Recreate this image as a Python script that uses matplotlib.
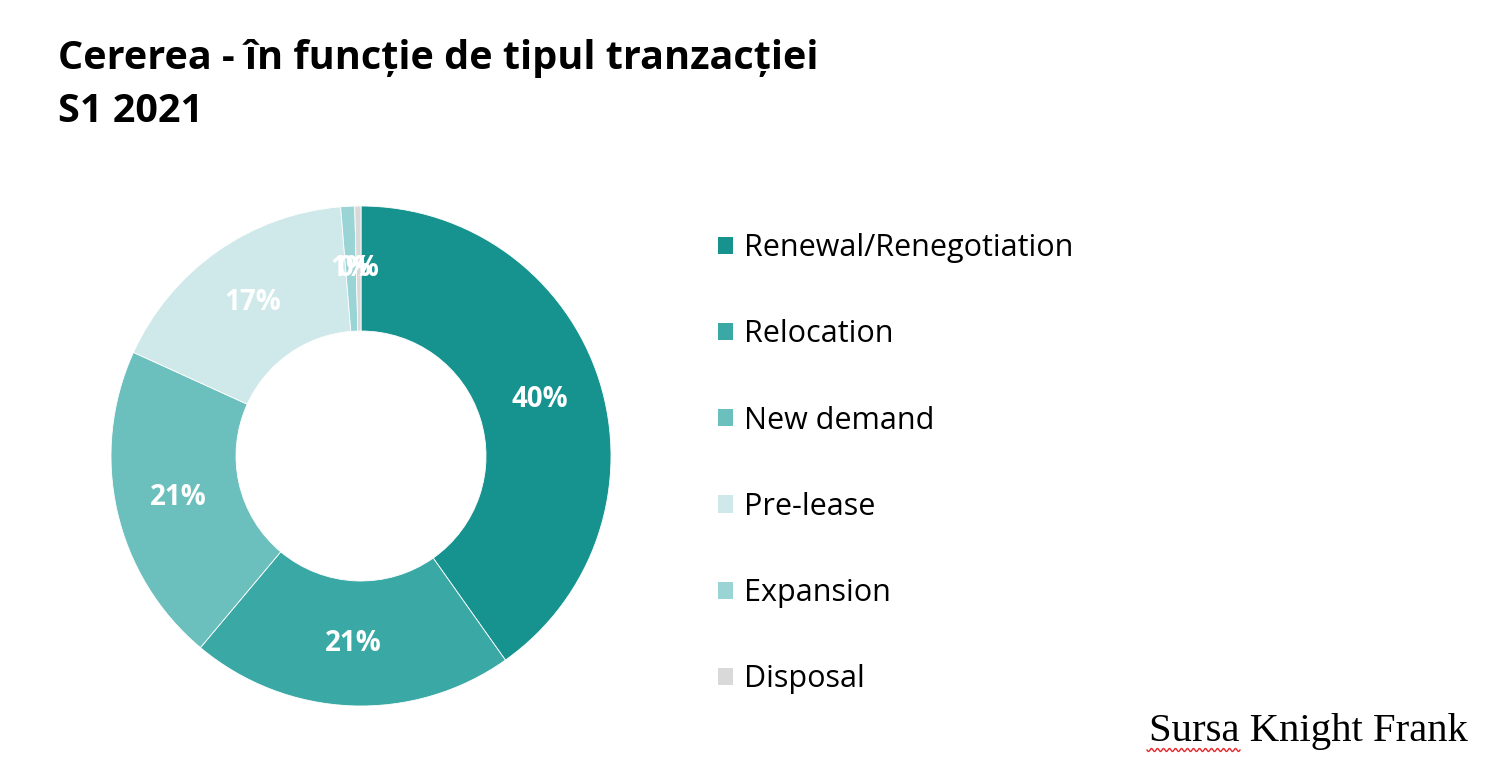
import matplotlib
matplotlib.use("Agg")
import matplotlib.pyplot as plt
import numpy as np

categories = ["Renewal/Renegotiation", "Relocation", "New demand", "Pre-lease", "Expansion", "Disposal"]
values = [40.2, 20.9, 20.7, 16.9, 0.9, 0.4]
labels = ["40%", "21%", "21%", "17%", "1%", "0%"]
colors = ["#16938F", "#3AA8A4", "#6BBFBC", "#CFE9EA", "#9BD4D4", "#D9D9D9"]

title_lines = ["Cererea - în funcție de tipul tranzacției", "S1 2021"]
source = "Sursa Knight Frank"

W, H = 1500, 776
fig = plt.figure(figsize=(W / 100, H / 100), dpi=100)
fig.patch.set_facecolor("white")

cx, cy, R = 361, 456, 250
ax = fig.add_axes([(cx - R) / W, (H - cy - R) / H, 2 * R / W, 2 * R / H])
wedges, _ = ax.pie(values, colors=colors, startangle=90, counterclock=False,
                   radius=1.0, wedgeprops=dict(width=0.5, edgecolor="white", linewidth=0.6))
ax.set_xlim(-1, 1)
ax.set_ylim(-1, 1)
ax.set_aspect("equal")
ax.axis("off")

# labels at ring middle
total = sum(values)
cum = 0
for v, lab in zip(values, labels):
    mid = 90 - (cum + v / 2) / total * 360
    cum += v
    r = 0.75
    ax.text(r * np.cos(np.radians(mid)), r * np.sin(np.radians(mid)), lab,
            ha="center", va="center", color="white", fontsize=20, fontweight="bold",
            family="Open Sans")

fig.text(58 / W, 1 - 58 / H, title_lines[0], ha="left", va="center",
         fontsize=28.5, fontweight="bold", family="Open Sans", color="black")
fig.text(58 / W, 1 - 112 / H, title_lines[1], ha="left", va="center",
         fontsize=28.5, fontweight="bold", family="Open Sans", color="black")

leg = fig.legend(wedges, categories, loc="upper left",
                 bbox_to_anchor=(706 / W, 1 - 221 / H), frameon=False,
                 prop=dict(family="Open Sans", size=22),
                 handlelength=0.49, handleheight=0.49, handletextpad=0.36,
                 labelspacing=1.84, borderaxespad=0)
for h in leg.legend_handles:
    h.set_edgecolor("none")

fig.text(1149 / W, 1 - 732 / H, source, ha="left", va="center",
         fontsize=29.3, family="Liberation Serif", color="black")
# spell-check squiggle under "Sursa"
xs = np.linspace(1147, 1240, 200)
ys = 750 + 1.5 * np.sin((xs - 1147) / 5.0 * 2 * np.pi / 1.2)
fig.add_artist(plt.Line2D(xs / W, 1 - ys / H, color="#E8262B", linewidth=1.0,
                          transform=fig.transFigure))

fig.savefig("out.png", dpi=100, facecolor="white")
